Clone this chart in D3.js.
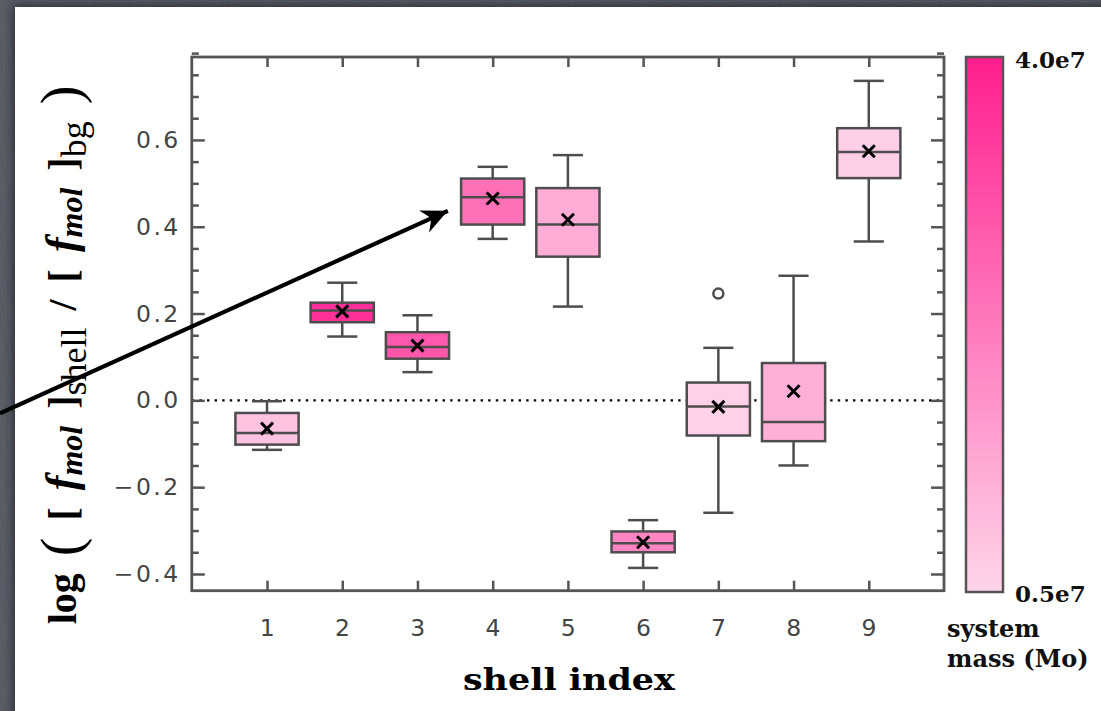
<!DOCTYPE html>
<html>
<head>
<meta charset="utf-8">
<script src="https://cdn.jsdelivr.net/npm/d3@7/dist/d3.min.js"></script>
<style>
  html, body { margin: 0; padding: 0; background: #50555f; }
  svg { display: block; }
</style>
</head>
<body>
<svg id="chart" width="1101" height="711"></svg>
<script>
// Molecular fraction enhancement per shell: box statistics and system mass
const shells     = [1, 2, 3, 4, 5, 6, 7, 8, 9];
const whiskerHi  = [-0.002, 0.271, 0.196, 0.538, 0.565, -0.276, 0.121, 0.287, 0.736];
const q3         = [-0.029, 0.225, 0.157, 0.511, 0.489, -0.302, 0.041, 0.086, 0.627];
const medians    = [-0.075, 0.207, 0.123, 0.468, 0.405, -0.329, -0.014, -0.050, 0.572];
const q1         = [-0.102, 0.180, 0.096, 0.405, 0.331, -0.350, -0.081, -0.094, 0.512];
const whiskerLo  = [-0.114, 0.147, 0.065, 0.372, 0.216, -0.386, -0.259, -0.150, 0.366];
const means      = [-0.065, 0.205, 0.126, 0.465, 0.416, -0.327, -0.015, 0.021, 0.574];
const massE7     = [0.84, 3.65, 2.9, 2.43, 1.26, 2.0, 0.55, 1.2, 0.6];
const outlierShell = [7];
const outlierValue = [0.246];

const yTicks = [-0.4, -0.2, 0.0, 0.2, 0.4, 0.6];
const massRange = [0.5, 4.0];
const massLabels = ["0.5e7", "4.0e7"];

// annotation arrow (data coordinates: shell index, log ratio)
const arrowFrom = [-2.55, -0.03];
const arrowTo   = [3.51, 0.445];

const svg = d3.select("#chart");
const W = 1101, H = 711;

// ---- background & panel ----
const defs = svg.append("defs");
const noise = defs.append("filter").attr("id", "grain").attr("x", 0).attr("y", 0).attr("width", "100%").attr("height", "100%");
noise.append("feTurbulence").attr("type", "fractalNoise").attr("baseFrequency", "0.9 0.05").attr("numOctaves", 2).attr("seed", 4).attr("result", "n");
noise.append("feColorMatrix").attr("in", "n").attr("type", "matrix")
  .attr("values", "0 0 0 0 0.30  0 0 0 0 0.32  0 0 0 0 0.37  0 0 0 0.35 0");
const soft = defs.append("filter").attr("id", "soft").attr("x", "-10%").attr("y", "-10%").attr("width", "120%").attr("height", "120%");
soft.append("feGaussianBlur").attr("stdDeviation", 4);

svg.append("rect").attr("width", W).attr("height", H).attr("fill", "#51565f");
svg.append("rect").attr("width", W).attr("height", H).attr("filter", "url(#grain)").attr("opacity", 0.6);
// panel shadow, then the panel itself
svg.append("rect").attr("x", 13).attr("y", 5).attr("width", W + 40).attr("height", H + 40)
  .attr("fill", "#1c1f26").attr("opacity", 0.75).attr("filter", "url(#soft)");
svg.append("rect").attr("x", 15).attr("y", 7).attr("width", W + 40).attr("height", H + 40)
  .attr("fill", "#ffffff");

// ---- scales ----
const plot = { left: 191.8, right: 944, top: 57, bottom: 590.7 };
const x = d3.scaleLinear().domain([0, 10]).range([plot.left, plot.right]);
const y = d3.scaleLinear().domain([-0.4385, 0.791]).range([plot.bottom, plot.top]);

const massColor = d3.scaleLinear().domain(massRange)
  .range(["#ffd4ea", "#ff1e8e"]).interpolate(d3.interpolateRgb);

const axisCol = "#555555";
const g = svg.append("g");

// zero reference line
g.append("line")
  .attr("x1", plot.left).attr("x2", plot.right)
  .attr("y1", y(0)).attr("y2", y(0))
  .attr("stroke", "#000").attr("stroke-width", 2.2)
  .attr("stroke-dasharray", "2.4 5.2");

// ---- boxes ----
const boxHalf = 0.42, capHalf = 0.2;
const rows = shells.map((s, i) => ({
  s, lo: whiskerLo[i], q1: q1[i], med: medians[i], q3: q3[i], hi: whiskerHi[i], mean: means[i], m: massE7[i]
}));

const bx = g.selectAll("g.box").data(rows).join("g").attr("class", "box");
bx.append("line") // whisker stem
  .attr("x1", d => x(d.s)).attr("x2", d => x(d.s))
  .attr("y1", d => y(d.hi)).attr("y2", d => y(d.lo))
  .attr("stroke", "#4d4d4d").attr("stroke-width", 2.5);
bx.selectAll("line.cap").data(d => [[d.s, d.hi], [d.s, d.lo]]).join("line").attr("class", "cap")
  .attr("x1", d => x(d[0] - capHalf)).attr("x2", d => x(d[0] + capHalf))
  .attr("y1", d => y(d[1])).attr("y2", d => y(d[1]))
  .attr("stroke", "#4d4d4d").attr("stroke-width", 2.5);
bx.append("rect")
  .attr("x", d => x(d.s - boxHalf)).attr("width", d => x(d.s + boxHalf) - x(d.s - boxHalf))
  .attr("y", d => y(d.q3)).attr("height", d => y(d.q1) - y(d.q3))
  .attr("fill", d => massColor(d.m)).attr("stroke", "#4d4d4d").attr("stroke-width", 2.5);
bx.append("line") // median
  .attr("x1", d => x(d.s - boxHalf)).attr("x2", d => x(d.s + boxHalf))
  .attr("y1", d => y(d.med)).attr("y2", d => y(d.med))
  .attr("stroke", "#4d4d4d").attr("stroke-width", 2.5);
bx.append("path") // mean marker
  .attr("d", d => {
    const cx = x(d.s), cy = y(d.mean), r = 6;
    return `M${cx - r},${cy - r}L${cx + r},${cy + r}M${cx - r},${cy + r}L${cx + r},${cy - r}`;
  })
  .attr("stroke", "#000").attr("stroke-width", 3);

// outliers
g.selectAll("circle.out").data(outlierShell.map((s, i) => [s, outlierValue[i]])).join("circle")
  .attr("class", "out")
  .attr("cx", d => x(d[0])).attr("cy", d => y(d[1])).attr("r", 5)
  .attr("fill", "#fff").attr("stroke", "#4d4d4d").attr("stroke-width", 2.5);

// ---- axes ----
const tickFmt = d3.format(".1f");
const styleAxis = sel => {
  sel.select(".domain").remove();
  sel.selectAll(".tick line").attr("stroke", axisCol).attr("stroke-width", 2.5);
  sel.selectAll(".tick text")
    .attr("fill", "#444").style("font-family", "'DejaVu Sans', sans-serif")
    .style("font-size", "23.5px").style("letter-spacing", "2.5px");
};
const minor = d3.range(-0.4, 0.8, 0.05).map(v => +v.toFixed(2)).filter(v => !yTicks.some(t => Math.abs(t - v) < 1e-6));

svg.append("g").attr("transform", `translate(${plot.left},0)`)
  .call(d3.axisLeft(y).tickValues(yTicks).tickFormat(tickFmt).tickSize(-13).tickPadding(11))
  .call(styleAxis);
svg.append("g").attr("transform", `translate(${plot.right},0)`)
  .call(d3.axisRight(y).tickValues(yTicks).tickFormat("").tickSize(-13))
  .call(styleAxis);
svg.append("g").attr("transform", `translate(${plot.left},0)`)
  .call(d3.axisLeft(y).tickValues(minor).tickFormat("").tickSize(-7))
  .call(styleAxis);
svg.append("g").attr("transform", `translate(${plot.right},0)`)
  .call(d3.axisRight(y).tickValues(minor).tickFormat("").tickSize(-7))
  .call(styleAxis);
svg.append("g").attr("transform", `translate(0,${plot.bottom})`)
  .call(d3.axisBottom(x).tickValues(shells).tickFormat(d3.format("d")).tickSize(-10).tickPadding(29))
  .call(styleAxis)
  .call(s => s.selectAll(".tick text").attr("dx", "1px"));
svg.append("g").attr("transform", `translate(0,${plot.top})`)
  .call(d3.axisTop(x).tickValues(shells).tickFormat("").tickSize(-10))
  .call(styleAxis);

svg.append("rect")
  .attr("x", plot.left).attr("y", plot.top)
  .attr("width", plot.right - plot.left).attr("height", plot.bottom - plot.top)
  .attr("fill", "none").attr("stroke", axisCol).attr("stroke-width", 2.8);

// ---- annotation arrow ----
defs.append("marker").attr("id", "head")
  .attr("markerUnits", "userSpaceOnUse").attr("viewBox", "-28 -13 30 26")
  .attr("markerWidth", 30).attr("markerHeight", 26).attr("refX", 0).attr("refY", 0)
  .attr("orient", "auto")
  .append("path").attr("d", "M0,0L-26,-12L-18,0L-26,12Z").attr("fill", "#000");
svg.append("line")
  .attr("x1", x(arrowFrom[0])).attr("y1", y(arrowFrom[1]))
  .attr("x2", x(arrowTo[0]) - 8).attr("y2", y(arrowTo[1]) + 3.6)
  .attr("stroke", "#000").attr("stroke-width", 4.2)
  .attr("marker-end", "url(#head)");

// ---- axis titles ----
svg.append("text")
  .attr("x", (plot.left + plot.right) / 2 + 1).attr("y", 690)
  .attr("text-anchor", "middle")
  .style("font-family", "'DejaVu Serif', serif").style("font-weight", "bold").style("font-size", "29px")
  .attr("textLength", 212).attr("lengthAdjust", "spacingAndGlyphs")
  .text("shell index");

const yt = svg.append("text")
  .attr("transform", "translate(76,355) rotate(-90)")
  .attr("text-anchor", "middle")
  .style("font-family", "'Liberation Serif', serif").style("font-weight", "bold").style("font-size", "40px")
  .style("word-spacing", "7px");
const parts = [
  { t: "log ", dy: 0 },
  { t: "(", size: 56, weight: "normal", dy: 4 },
  { t: " [ ", dy: -4 },
  { t: "f", style: "italic", size: 44 },
  { t: "mol", style: "italic", size: 32, dy: 6 },
  { t: " ]", dy: -6 },
  { t: "shell", size: 36, dy: 10, weight: "normal" },
  { t: " / [ ", dy: -10 },
  { t: "f", style: "italic", size: 44 },
  { t: "mol", style: "italic", size: 32, dy: 6 },
  { t: " ]", dy: -6 },
  { t: "bg", size: 36, dy: 10, weight: "normal" },
  { t: " ", dy: -10 },
  { t: ")", size: 56, weight: "normal", dy: 4 }
];
parts.forEach(p => {
  const ts = yt.append("tspan").text(p.t).attr("dy", p.dy || 0);
  if (p.size) ts.style("font-size", p.size + "px");
  if (p.style) ts.style("font-style", p.style);
  if (p.weight) ts.style("font-weight", p.weight);
});

// ---- colour bar ----
const cb = { x: 966, w: 37, top: 57, bottom: 592 };
const cScale = d3.scaleLinear().domain(massRange).range([cb.bottom, cb.top]);
const grad = defs.append("linearGradient").attr("id", "massgrad")
  .attr("x1", 0).attr("y1", 1).attr("x2", 0).attr("y2", 0);
d3.range(0, 1.0001, 0.25).forEach(t => {
  const m = massRange[0] + t * (massRange[1] - massRange[0]);
  grad.append("stop").attr("offset", t).attr("stop-color", massColor(m));
});
svg.append("rect")
  .attr("x", cb.x).attr("width", cb.w)
  .attr("y", cScale(massRange[1])).attr("height", cScale(massRange[0]) - cScale(massRange[1]))
  .attr("fill", "url(#massgrad)").attr("stroke", axisCol).attr("stroke-width", 2.5);

const cbFont = (sel, size) => sel.style("font-family", "'DejaVu Serif', serif").style("font-weight", "bold")
  .style("font-size", size + "px").attr("fill", "#111");
svg.append("text").attr("x", 1015).attr("y", cScale(massRange[1]) + 11).text(massLabels[1]).call(cbFont, 23);
svg.append("text").attr("x", 1015).attr("y", cScale(massRange[0]) + 10).text(massLabels[0]).call(cbFont, 23);
svg.append("text").attr("x", 947).attr("y", 637).text("system").call(cbFont, 24);
svg.append("text").attr("x", 947).attr("y", 667).text("mass (Mo)").call(cbFont, 24);
</script>
</body>
</html>
